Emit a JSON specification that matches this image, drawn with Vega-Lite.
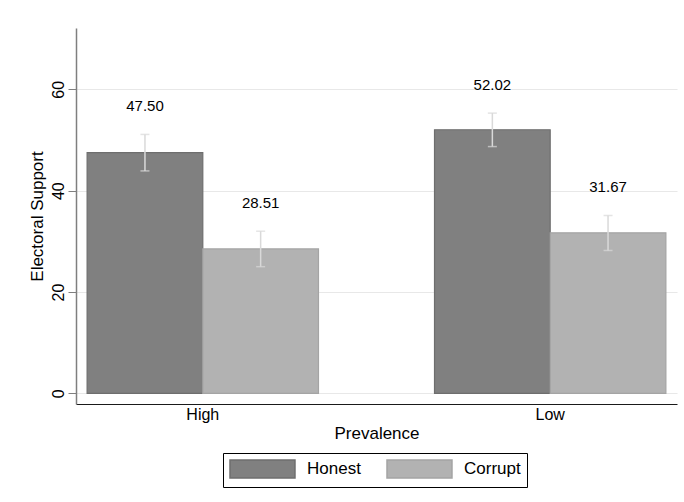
{
  "$schema": "https://vega.github.io/schema/vega-lite/v6.json",
  "autosize": "none",
  "width": 601,
  "height": 376,
  "padding": {"left": 76, "top": 28, "right": 7, "bottom": 98},
  "background": "white",
  "config": {
    "font": "Liberation Sans",
    "view": {"stroke": null}
  },
  "data": {
    "values": [
      {"prevalence": "High", "type": "Honest", "mean": 47.50, "lo": 43.9, "hi": 51.1},
      {"prevalence": "High", "type": "Corrupt", "mean": 28.51, "lo": 25.0, "hi": 32.0},
      {"prevalence": "Low", "type": "Honest", "mean": 52.02, "lo": 48.7, "hi": 55.3},
      {"prevalence": "Low", "type": "Corrupt", "mean": 31.67, "lo": 28.2, "hi": 35.1}
    ]
  },
  "encoding": {
    "x": {
      "field": "prevalence",
      "type": "nominal",
      "title": "Prevalence",
      "scale": {"paddingInner": 0.334, "paddingOuter": 0.032},
      "axis": {
        "labelAngle": 0,
        "ticks": false,
        "labelFontSize": 16,
        "labelColor": "black",
        "labelPadding": 2,
        "titleFontSize": 17,
        "titleFontWeight": "normal",
        "titleColor": "black",
        "titlePadding": 3,
        "domainColor": "#1a1a1a",
        "domainWidth": 1.2
      }
    },
    "xOffset": {
      "field": "type",
      "type": "nominal",
      "scale": {"domain": ["Honest", "Corrupt"], "paddingInner": 0, "paddingOuter": 0}
    }
  },
  "layer": [
    {
      "mark": {"type": "bar", "strokeWidth": 1.2},
      "encoding": {
        "y": {
          "field": "mean",
          "type": "quantitative",
          "title": "Electoral Support",
          "scale": {"domain": [-2.1, 72.1], "nice": false, "zero": false},
          "axis": {
            "values": [0, 20, 40, 60],
            "labelAngle": 270,
            "labelAlign": "center",
            "labelBaseline": "bottom",
            "labelFontSize": 16,
            "labelColor": "black",
            "labelPadding": 2,
            "tickSize": 8,
            "tickColor": "#7f7f7f",
            "domainColor": "#7f7f7f",
            "domainWidth": 1.5,
            "gridColor": "#e8e8e8",
            "gridWidth": 1.2,
            "titleFontSize": 17,
            "titleFontWeight": "normal",
            "titleColor": "black",
            "titlePadding": 4
          }
        },
        "fill": {
          "field": "type",
          "type": "nominal",
          "scale": {"domain": ["Honest", "Corrupt"], "range": ["#808080", "#b2b2b2"]},
          "legend": {
            "title": null,
            "orient": "none",
            "legendX": 147,
            "legendY": 425,
            "direction": "horizontal",
            "symbolType": "M-1,-1H6.22V1H-1Z",
            "symbolSize": 324,
            "symbolStrokeWidth": 1.5,
            "labelFontSize": 17,
            "labelColor": "black",
            "labelOffset": 58,
            "columnPadding": 23,
            "padding": 6,
            "strokeColor": "black",
            "cornerRadius": 0
          }
        },
        "stroke": {
          "field": "type",
          "type": "nominal",
          "scale": {"domain": ["Honest", "Corrupt"], "range": ["#6e6e6e", "#a4a4a4"]},
          "legend": null
        }
      }
    },
    {
      "mark": {"type": "rule", "color": "#d9d9d9", "strokeWidth": 1.5},
      "encoding": {
        "y": {"field": "lo", "type": "quantitative"},
        "y2": {"field": "hi"}
      }
    },
    {
      "mark": {"type": "tick", "color": "#d9d9d9", "size": 9, "thickness": 1.5},
      "encoding": {"y": {"field": "lo", "type": "quantitative"}}
    },
    {
      "mark": {"type": "tick", "color": "#d9d9d9", "size": 9, "thickness": 1.5},
      "encoding": {"y": {"field": "hi", "type": "quantitative"}}
    },
    {
      "mark": {"type": "text", "fontSize": 15, "color": "black", "baseline": "middle", "dy": -28},
      "encoding": {
        "y": {"field": "hi", "type": "quantitative"},
        "text": {"field": "mean", "type": "quantitative", "format": ".2f"}
      }
    }
  ]
}
